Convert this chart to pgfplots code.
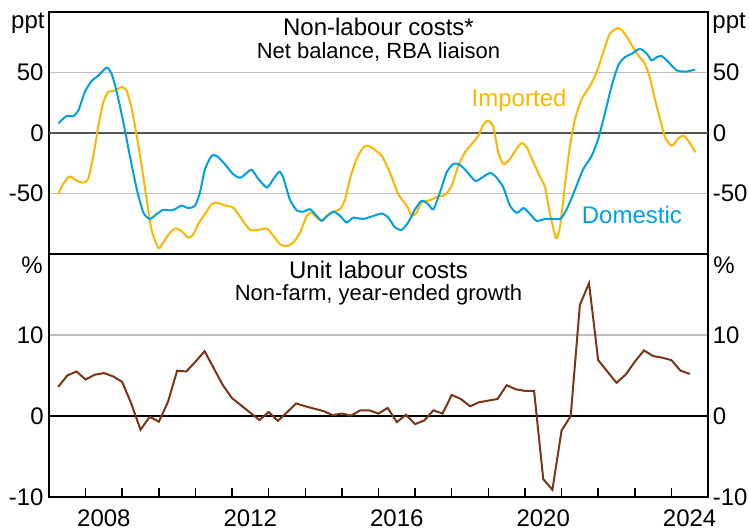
\documentclass[border=0pt]{standalone}
\usepackage{fontspec}
\setmainfont{Liberation Sans}
\usepackage{pgfplots}
\usepackage{pgfplotstable}
\pgfplotsset{compat=1.18}
\definecolor{dom}{RGB}{0,160,223}
\definecolor{imp}{RGB}{254,181,0}
\definecolor{ulc}{RGB}{122,53,22}
\definecolor{gridc}{RGB}{190,190,190}
\definecolor{zeroc}{RGB}{85,85,85}

\pgfplotstableread{
x y
2007.255 8
2007.48 14
2007.665 14
2007.80 18.5
2007.98 34
2008.165 43
2008.35 47.5
2008.575 54
2008.71 49
2008.85 34
2009.03 9
2009.21 -19
2009.395 -46
2009.58 -66
2009.76 -71
2009.94 -67
2010.12 -63.5
2010.305 -64
2010.44 -63
2010.62 -60
2010.805 -62
2010.99 -60
2011.125 -49
2011.26 -30
2011.44 -19
2011.58 -19
2011.81 -26
2012.03 -34
2012.22 -37
2012.40 -33
2012.54 -30.4
2012.72 -38
2012.95 -45
2013.13 -38
2013.29 -32
2013.40 -37
2013.58 -55
2013.77 -64
2013.95 -65
2014.13 -63
2014.31 -68.5
2014.45 -72.6
2014.585 -69
2014.77 -65
2014.95 -68.5
2015.13 -74
2015.31 -70
2015.585 -71
2015.86 -68.5
2016.09 -66.6
2016.27 -70
2016.45 -78
2016.63 -80
2016.81 -74
2017.00 -63
2017.18 -56
2017.36 -59
2017.50 -63
2017.68 -49
2017.86 -32.6
2018.04 -25.7
2018.18 -25.7
2018.36 -30
2018.64 -39.5
2018.82 -37
2019.05 -33
2019.23 -37
2019.41 -45
2019.59 -60
2019.78 -66
2019.96 -62
2020.14 -67
2020.32 -72.6
2020.55 -71
2020.77 -71
2020.96 -71
2021.09 -66
2021.23 -57
2021.41 -43.6
2021.59 -30
2021.82 -19
2022.00 -5
2022.19 17
2022.37 39
2022.55 56
2022.73 62.7
2022.92 65.5
2023.14 69.6
2023.33 65.5
2023.46 60
2023.60 62.7
2023.74 63.5
2023.92 58.6
2024.15 51.7
2024.42 50.8
2024.65 52.5
}\domestic

\pgfplotstableread{
x y
2007.255 -50.5
2007.39 -42
2007.57 -36
2007.755 -39.5
2007.94 -41
2008.07 -38
2008.21 -19
2008.35 6
2008.48 25
2008.62 34
2008.80 35
2008.985 38
2009.12 35
2009.26 20
2009.395 -2
2009.53 -27
2009.67 -55
2009.80 -80
2009.99 -95
2010.12 -90.6
2010.26 -84
2010.44 -79
2010.62 -81
2010.805 -86.5
2010.94 -84
2011.08 -75
2011.26 -67
2011.44 -59
2011.58 -57.5
2011.81 -60
2012.03 -61.6
2012.26 -71
2012.49 -80
2012.72 -80
2012.95 -79
2013.13 -85
2013.31 -92
2013.49 -93.4
2013.67 -90.6
2013.86 -82
2014.04 -68.5
2014.18 -66
2014.31 -70
2014.45 -72.6
2014.585 -68.5
2014.77 -65
2014.95 -63
2015.085 -55
2015.22 -38
2015.40 -21.5
2015.585 -12
2015.72 -10.5
2015.86 -13
2016.09 -19
2016.31 -32.6
2016.54 -50.5
2016.77 -60
2016.91 -68.5
2017.04 -66
2017.18 -57
2017.36 -56
2017.59 -53
2017.82 -51
2018.00 -43.6
2018.18 -27
2018.36 -16
2018.55 -9
2018.73 -2
2018.86 6.6
2019.00 10.2
2019.14 4.7
2019.27 -16
2019.41 -25.7
2019.59 -21.5
2019.78 -12.7
2019.91 -8.3
2020.05 -12
2020.23 -24
2020.41 -36
2020.55 -45
2020.68 -66
2020.85 -87
2020.96 -77
2021.09 -43.6
2021.23 -10.5
2021.37 11.6
2021.55 28
2021.78 39
2021.96 50.3
2022.14 66.9
2022.32 82
2022.55 86.7
2022.73 82
2022.92 72.4
2023.10 64
2023.28 57
2023.42 44.8
2023.55 28
2023.69 11.6
2023.83 -3.6
2024.01 -10.5
2024.19 -4.4
2024.33 -2.2
2024.46 -6.4
2024.66 -16
}\imported

\pgfplotstableread{
x y
2007.25 3.6
2007.5 5.0
2007.75 5.5
2008.0 4.5
2008.25 5.1
2008.5 5.3
2008.75 4.9
2009.0 4.2
2009.25 1.5
2009.5 -1.7
2009.75 -0.1
2010.0 -0.7
2010.25 1.75
2010.5 5.6
2010.75 5.5
2011.0 6.7
2011.25 8.0
2011.5 5.9
2011.75 3.8
2012.0 2.2
2012.25 1.3
2012.5 0.4
2012.75 -0.5
2013.0 0.5
2013.25 -0.6
2013.5 0.45
2013.75 1.55
2014.0 1.2
2014.25 0.9
2014.5 0.6
2014.75 0.1
2015.0 0.3
2015.25 0.05
2015.5 0.7
2015.75 0.7
2016.0 0.3
2016.25 1.0
2016.5 -0.75
2016.75 0.15
2017.0 -1.0
2017.25 -0.55
2017.5 0.7
2017.75 0.3
2018.0 2.6
2018.25 2.1
2018.5 1.2
2018.75 1.7
2019.0 1.9
2019.25 2.1
2019.5 3.8
2019.75 3.3
2020.0 3.1
2020.25 3.1
2020.5 -7.8
2020.75 -9.1
2021.0 -1.8
2021.25 0.0
2021.5 13.7
2021.75 16.4
2022.0 6.9
2022.25 5.5
2022.5 4.1
2022.75 5.1
2023.0 6.7
2023.25 8.1
2023.5 7.4
2023.75 7.2
2024.0 6.9
2024.25 5.6
2024.5 5.2
}\ulcdata

\pgfplotsset{
  panel/.style={
    scale only axis, width=329.5pt,
    xmin=2007, xmax=2025,
    axis line style={line width=0.75pt, black},
    every tick label/.append style={font=\fontsize{12}{14}\selectfont},
    ymajorgrids,
    grid style={color=gridc, line width=0.6pt},
    yticklabel style={inner sep=0pt, xshift=-2.5pt},
  },
  rightlabels/.style={
    scale only axis, width=329.5pt,
    xmin=2007, xmax=2025,
    axis line style={draw=none},
    every tick label/.append style={font=\fontsize{12}{14}\selectfont},
    ytick style={draw=none}, xtick=\empty,
    yticklabel pos=right,
    yticklabel style={anchor=west, inner sep=0pt, xshift=2.2pt},
  },
}

\begin{document}
\begin{tikzpicture}
\useasboundingbox (-24.5pt,6pt) rectangle (350pt,-259.5pt);

% ---------- Top panel ----------
\begin{axis}[panel, name=top, at={(0,0)}, anchor=north west,
  height=121pt, ymin=-100, ymax=100,
  xtick=\empty, ytick style={draw=none},
  ytick={-50,50}, yticklabels={-50,50},
  extra y ticks={0}, extra y tick labels={0},
  extra y tick style={grid style={color=zeroc, line width=1pt}},
]
\addplot[imp, line width=1pt, smooth, tension=0.4] table[x=x,y=y] {\imported};
\addplot[dom, line width=1pt, smooth, tension=0.4] table[x=x,y=y] {\domestic};
\node[anchor=base, font=\fontsize{12}{14}\selectfont, text=imp, inner sep=0pt] at (axis cs:2019.84,22) {Imported};
\node[anchor=base, font=\fontsize{12}{14}\selectfont, text=dom, inner sep=0pt] at (axis cs:2022.92,-74.4) {Domestic};
\node[anchor=base, yshift=-11.5pt, inner sep=0pt, font=\fontsize{12}{14}\selectfont] at (rel axis cs:0.5,1) {Non-labour costs*};
\node[anchor=base, yshift=-23pt, inner sep=0pt, font=\fontsize{11}{13}\selectfont] at (rel axis cs:0.5,1) {Net balance, RBA liaison};
\end{axis}
\begin{axis}[rightlabels, at={(0,0)}, anchor=north west,
  height=121pt, ymin=-100, ymax=100,
  ytick={-50,0,50}, yticklabels={-50,0,50}]
\addplot[draw=none] coordinates {(2010,0)};
\end{axis}
\node[anchor=base east, inner sep=0pt, font=\fontsize{12}{14}\selectfont] at (-2pt,-8pt) {ppt};
\node[anchor=base west, inner sep=0pt, font=\fontsize{12}{14}\selectfont] at (331.5pt,-8pt) {ppt};

% ---------- Bottom panel ----------
\begin{axis}[panel, name=bot, at={(0,-121pt)}, anchor=north west,
  height=121.5pt, ymin=-10, ymax=20,
  xtick={2008,...,2024},
  xticklabels={2008,,,,2012,,,,2016,,,,2020,,,,2024},
  major tick length=0pt,
  every y tick/.style={draw=none},
  xticklabel style={anchor=north, inner sep=0pt, xshift=9.15pt, yshift=-6pt},
  ytick={-10,10}, yticklabels={-10,10},
  extra y ticks={0}, extra y tick labels={0},
  extra y tick style={grid style={color=black, line width=0.6pt}},
]
\addplot[ulc, line width=1pt] table[x=x,y=y] {\ulcdata};
\pgfplotsinvokeforeach{2008,2009,2010,2011,2012,2013,2014,2015,2016,2017,2018,2019,2020,2021,2022,2023,2024}{
  \draw[black, line width=0.75pt] (axis cs:#1,-10) -- ([yshift=4.5pt]axis cs:#1,-10);
}
\node[anchor=base, yshift=-12pt, inner sep=0pt, font=\fontsize{12}{14}\selectfont] at (rel axis cs:0.5,1) {Unit labour costs};
\node[anchor=base, yshift=-23pt, inner sep=0pt, font=\fontsize{11}{13}\selectfont] at (rel axis cs:0.5,1) {Non-farm, year-ended growth};
\end{axis}
\begin{axis}[rightlabels, at={(0,-121pt)}, anchor=north west,
  height=121.5pt, ymin=-10, ymax=20,
  ytick={-10,0,10}, yticklabels={-10,0,10}]
\addplot[draw=none] coordinates {(2010,0)};
\end{axis}
\node[anchor=base east, inner sep=0pt, font=\fontsize{12}{14}\selectfont] at (-3pt,-130.5pt) {\%};
\node[anchor=base west, inner sep=0pt, font=\fontsize{12}{14}\selectfont] at (332pt,-130.5pt) {\%};
\end{tikzpicture}
\end{document}
